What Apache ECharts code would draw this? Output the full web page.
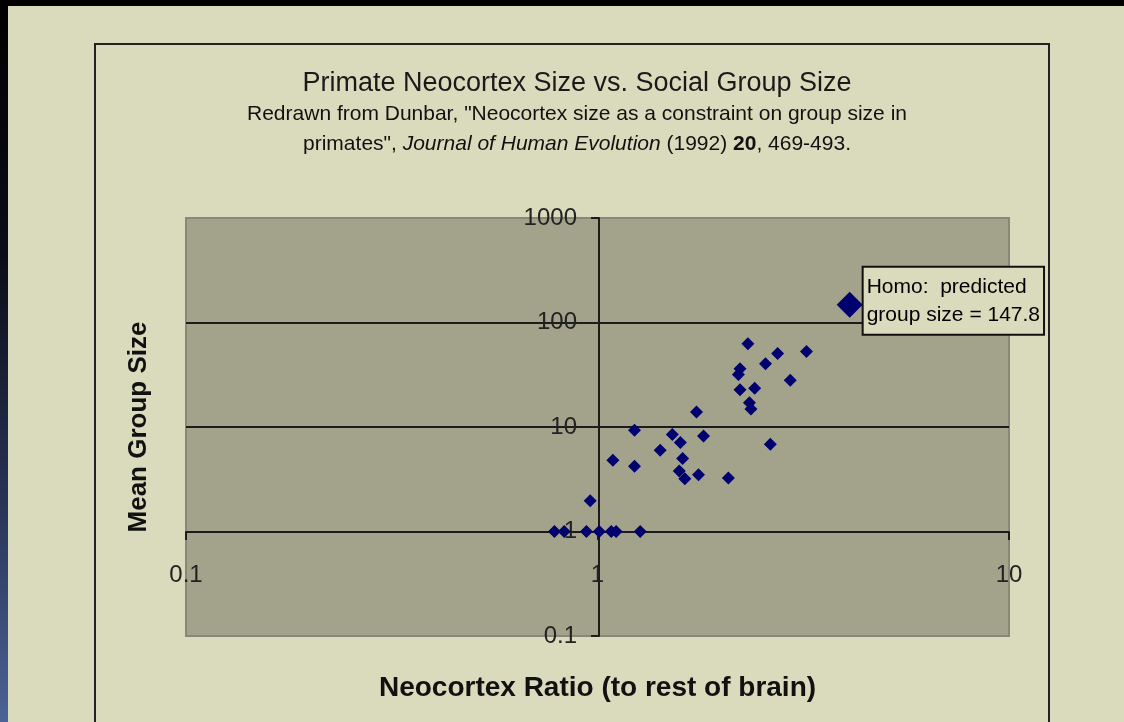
<!DOCTYPE html>
<html>
<head>
<meta charset="utf-8">
<script src="https://cdn.jsdelivr.net/npm/echarts@6/dist/echarts.min.js"></script>
<style>
  body { margin: 0; background: #000; width: 1124px; height: 722px; overflow: hidden; position: relative; }
  #edge { position: absolute; left: 0; top: 0; width: 8px; height: 722px;
          background: linear-gradient(to bottom, #000 0%, #0a0d18 35%, #263252 68%, #4b6396 100%); }
  #chart { position: absolute; left: 8px; top: 6px; width: 1116px; height: 716px; }
</style>
</head>
<body>
<div id="edge"></div>
<div id="chart"></div>
<script>
// values (neocortex ratio, mean group size)
var neocortexRatio = [2.32, 2.74, 3.22, 2.56, 2.22, 2.2, 2.94, 2.22, 2.41, 2.34, 2.36, 1.74,
                      1.23, 1.52, 1.59, 1.81, 2.63, 1.42, 1.61, 1.09, 1.23, 1.58, 1.63, 1.76, 2.08,
                      0.96, 0.786, 0.83, 0.94, 1.01, 1.08, 1.11, 1.27];
var groupSize = [62.5, 50.5, 52.8, 40.3, 36.1, 31.8, 28.0, 22.7, 23.5, 17.1, 14.9, 13.9,
                 9.3, 8.5, 7.1, 8.2, 6.85, 6.0, 5.0, 4.8, 4.2, 3.8, 3.2, 3.5, 3.25,
                 1.97, 1, 1, 1, 1, 1, 1, 1];
var homoRatio = [4.1];
var homoGroup = [147.8];

var primates = [];
for (var i = 0; i < neocortexRatio.length; i++) {
  primates.push([neocortexRatio[i], groupSize[i]]);
}
var homo = [[homoRatio[0], homoGroup[0]]];

// log labels without thousands separator
function plainNum(v) {
  return String(Math.round(v * 1000) / 1000);
}

var myChart = echarts.init(document.getElementById('chart'));
var option = {
  backgroundColor: '#dadabd',
  textStyle: { fontFamily: 'Liberation Sans' },
  title: {
    text: 'Primate Neocortex Size vs. Social Group Size',
    subtext: 'Redrawn from Dunbar, "Neocortex size as a constraint on group size in\nprimates", {i|Journal of Human Evolution} (1992) {b|20}, 469-493.',
    left: 564,
    top: 59,
    textAlign: 'center',
    itemGap: 2,
    textStyle: { fontSize: 27, fontWeight: 'normal', color: '#1a1a1a', fontFamily: 'Liberation Sans' },
    subtextStyle: {
      fontSize: 21, lineHeight: 30, color: '#111', fontFamily: 'Liberation Sans',
      rich: {
        i: { fontSize: 21, lineHeight: 30, fontStyle: 'italic', color: '#111', fontFamily: 'Liberation Sans' },
        b: { fontSize: 21, lineHeight: 30, fontWeight: 'bold', color: '#111', fontFamily: 'Liberation Sans' }
      }
    }
  },
  graphic: [{
    type: 'rect',
    z: -1,
    shape: { x: 87, y: 38, width: 954, height: 720 },
    style: { fill: 'none', stroke: '#222', lineWidth: 2 }
  }],
  grid: {
    left: 178, right: 115, top: 212, bottom: 86,
    containLabel: false,
    outerBoundsMode: 'none',
    show: true,
    backgroundColor: '#a3a38b',
    borderColor: '#88887a',
    borderWidth: 2
  },
  xAxis: {
    type: 'log',
    logBase: 10,
    min: 0.1,
    max: 10,
    offset: -104,
    name: 'Neocortex Ratio (to rest of brain)',
    nameLocation: 'middle',
    nameGap: 142,
    nameTextStyle: { fontSize: 28, fontWeight: 'bold', color: '#111' },
    axisLine: { onZero: false, lineStyle: { color: '#1c1c1c', width: 2 } },
    axisTick: { show: true, length: 8, lineStyle: { color: '#1c1c1c', width: 2 } },
    minorTick: { show: false },
    axisLabel: { margin: 31, fontSize: 24, color: '#222', formatter: plainNum },
    splitLine: { show: false }
  },
  yAxis: {
    type: 'log',
    logBase: 10,
    min: 0.1,
    max: 1000,
    offset: -413,
    name: 'Mean Group Size',
    nameLocation: 'middle',
    nameGap: 447,
    nameTextStyle: { fontSize: 26, fontWeight: 'bold', color: '#111' },
    axisLine: { onZero: false, lineStyle: { color: '#1c1c1c', width: 2 } },
    axisTick: { show: true, length: 8, lineStyle: { color: '#1c1c1c', width: 2 } },
    minorTick: { show: false },
    axisLabel: { margin: 22, fontSize: 24, color: '#222', formatter: plainNum },
    splitLine: {
      show: true,
      showMinLine: false,
      showMaxLine: false,
      lineStyle: { color: '#1c1c1c', width: 2 }
    }
  },
  series: [
    {
      name: 'primates',
      type: 'scatter',
      symbol: 'diamond',
      symbolSize: 13,
      itemStyle: { color: '#00006e', opacity: 1 },
      data: primates
    },
    {
      name: 'Homo',
      type: 'scatter',
      symbol: 'diamond',
      symbolSize: 26,
      itemStyle: { color: '#00006e', opacity: 1 },
      label: {
        show: true,
        position: 'right',
        distance: 1,
        offset: [0, -4],
        formatter: 'Homo:  predicted\ngroup size = 147.8',
        fontSize: 21,
        lineHeight: 28,
        color: '#000',
        fontFamily: 'Liberation Sans',
        backgroundColor: '#dadabd',
        borderColor: '#111',
        borderWidth: 2,
        padding: [5, 3, 5, 3]
      },
      data: homo
    }
  ]
};
myChart.setOption(option);
</script>
</body>
</html>
